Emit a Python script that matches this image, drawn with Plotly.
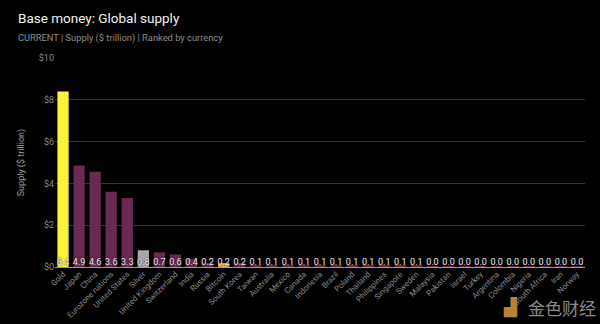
import plotly.graph_objects as go

categories = ["Gold", "Japan", "China", "Eurozone nations", "United States", "Silver",
              "United Kingdom", "Switzerland", "India", "Russia", "Bitcoin", "South Korea",
              "Taiwan", "Australia", "Mexico", "Canada", "Indonesia", "Brazil", "Poland",
              "Thailand", "Philippines", "Singapore", "Sweden", "Malaysia", "Pakistan",
              "Israel", "Turkey", "Argentina", "Colombia", "Nigeria", "South Africa",
              "Iran", "Norway"]
values = [8.4, 4.86, 4.56, 3.6, 3.3, 0.8, 0.7, 0.6, 0.4, 0.2, 0.2, 0.2,
          0.1, 0.1, 0.1, 0.1, 0.1, 0.1, 0.1, 0.1, 0.1, 0.1, 0.1,
          0.04, 0.04, 0.04, 0.04, 0.04, 0.04, 0.04, 0.04, 0.04, 0.04]
labels = [f"{v:.1f}" for v in values]
tick_vals = [0, 2, 4, 6, 8, 10]
tick_text = ["$0", "$2", "$4", "$6", "$8", "$10"]

special = {"Gold": "#f7f43a", "Silver": "#a9a9a9", "Bitcoin": "#f3a43b"}
colors = [special.get(c, "#6b2a52") for c in categories]

L, R, T, B = 55, 15, 58, 57
PW, PH = 600 - L - R, 324 - T - B

fig = go.Figure()
fig.add_trace(go.Bar(x=categories, y=values, marker=dict(color=colors, line=dict(width=0)),
                     hoverinfo="skip"))
fig.add_trace(go.Scatter(x=categories, y=[0] * len(categories), mode="text", text=labels,
                         textposition="top center",
                         textfont=dict(color="#f4eaf2", size=9, family="Roboto",
                                       shadow="0px 0px 2px #000"),
                         hoverinfo="skip"))

fig.update_layout(
    template="none",
    width=600, height=324, paper_bgcolor="#000", plot_bgcolor="#000",
    margin=dict(l=L, r=R, t=T, b=B, autoexpand=False),
    showlegend=False, bargap=0.3,
    font=dict(family="Roboto", color="#8a8a8a"),
    xaxis=dict(tickangle=-45, tickfont=dict(size=8, color="#8c8c8c"), showgrid=False,
               range=[-0.5, len(categories) - 0.5], autorange=False,
               showline=False, ticks="", zeroline=False, automargin=False),
    yaxis=dict(range=[0, 10], tickvals=tick_vals, ticktext=tick_text, automargin=False,
               tickfont=dict(size=9, color="#8c8c8c"), gridcolor="#333333", gridwidth=1,
               showline=False, ticks="",
               zeroline=True, zerolinecolor="#9a9a9a", zerolinewidth=1,
               title=dict(text="Supply ($ trillion)", font=dict(size=9, color="#9a9a9a"),
                          standoff=12)),
)
fig.add_annotation(text="Base money: Global supply", xref="paper", yref="paper",
                   x=-(L - 16) / PW, y=1 + (T - 18) / PH, xanchor="left", yanchor="middle",
                   showarrow=False, font=dict(size=13.5, color="#f2f2f2", family="Roboto"))
fig.add_annotation(text="CURRENT | Supply ($ trillion) | Ranked by currency", xref="paper",
                   yref="paper", x=-(L - 16) / PW, y=1 + (T - 38) / PH, xanchor="left",
                   yanchor="middle", showarrow=False,
                   font=dict(size=9.3, color="#8f8f8f", family="Roboto"))
fig.add_annotation(text="金色财经", xref="paper", yref="paper",
                   x=(598 - L) / PW, y=-(307 - (324 - B)) / PH,
                   xanchor="right", yanchor="middle", showarrow=False,
                   font=dict(size=17, color="#8a8a8a", family="Noto Sans CJK SC"))
fig.add_annotation(text="▟", xref="paper", yref="paper",
                   x=(520 - L) / PW, y=-(307 - (324 - B)) / PH,
                   xanchor="right", yanchor="middle", showarrow=False,
                   font=dict(size=17, color="#b8822f", family="DejaVu Sans"))

fig.write_html("out.html")
